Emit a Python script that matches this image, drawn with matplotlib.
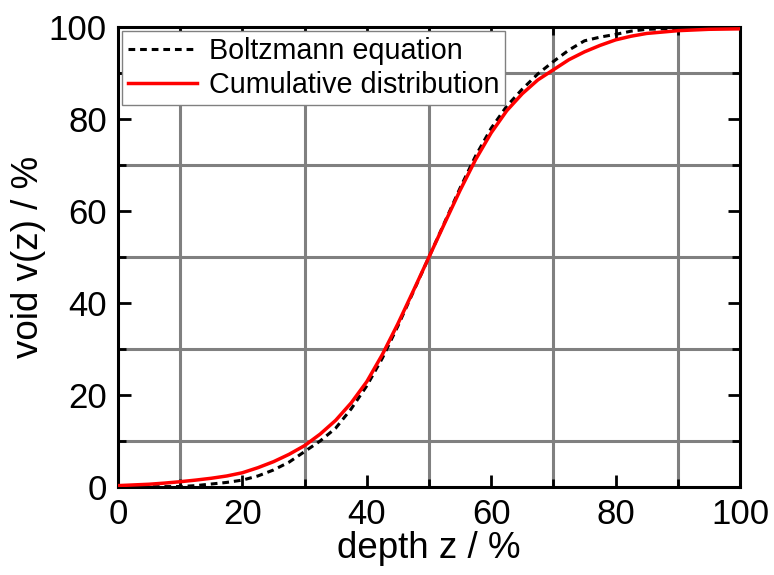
import matplotlib
matplotlib.use('Agg')
import matplotlib.pyplot as plt
from matplotlib.ticker import MultipleLocator
import numpy as np

#%% data
depth = [0, 2.5, 5, 7.5, 10, 12.5, 15, 17.5, 20, 22.5, 25, 27.5, 30, 32.5, 35, 37.5, 40, 42.5, 45, 47.5,
         50, 52.5, 55, 57.5, 60, 62.5, 65, 67.5, 70, 72.5, 75, 77.5, 80, 82.5, 85, 87.5, 90, 95, 100]
cumulative = [0.3, 0.45, 0.6, 0.85, 1.15, 1.5, 1.9, 2.4, 3.1, 4.2, 5.5, 7.1, 9.0, 11.5, 14.5, 18.3, 22.9, 28.8, 35.5, 42.7,
              50, 57.3, 64.5, 71.2, 77.0, 81.8, 85.5, 88.5, 90.7, 92.9, 94.6, 96.0, 97.2, 98.0, 98.6, 98.9, 99.2, 99.5, 99.6]
boltzmann = [0.05, 0.05, 0.05, 0.08, 0.1, 0.3, 0.65, 1.0, 1.5, 2.4, 3.7, 5.4, 7.7, 10.0, 12.8, 17.0, 22.0, 28.0, 35.0, 42.5,
             50, 57.5, 65.0, 72.0, 78.0, 82.8, 86.5, 89.8, 92.5, 95.0, 97.0, 97.8, 98.4, 99.1, 99.5, 99.6, 99.7, 99.8, 99.9]

#%% plot
plt.rcParams.update({'font.family': 'Liberation Sans', 'font.size': 25})
fig = plt.figure(figsize=(7.74, 5.75), dpi=100)
ax = fig.add_axes([118/774, 1-487/575, (740-118)/774, (487-27)/575])

ax.plot(depth, boltzmann, c='k', ls=(0, (2.2, 1.6)), lw=2.2, label='Boltzmann equation', zorder=3)
ax.plot(depth, cumulative, c='#ff0000', lw=2.5, label='Cumulative distribution', zorder=4)

ax.set_xlim(0, 100)
ax.set_ylim(0, 100)
ax.xaxis.set_major_locator(MultipleLocator(20))
ax.yaxis.set_major_locator(MultipleLocator(20))
ax.xaxis.set_minor_locator(MultipleLocator(10))
ax.yaxis.set_minor_locator(MultipleLocator(10))
ax.grid(which='minor', c='#808080', lw=2.2)
ax.tick_params(which='both', direction='in', top=True, right=True, width=2)
ax.tick_params(which='major', length=9, pad=8)
ax.tick_params(which='minor', length=6)
for s in ax.spines.values():
    s.set_linewidth(2.2)

ax.set_xlabel('depth z / %', fontsize=26.5, labelpad=0)
ax.set_ylabel('void v(z) / %', fontsize=26.5, labelpad=2)

leg = ax.legend(loc='upper left', fontsize=20.7, fancybox=False, framealpha=1, edgecolor='#808080',
                borderaxespad=0.15, handlelength=2.4, handletextpad=0.4, borderpad=0.2, labelspacing=0.2)
leg.get_frame().set_linewidth(1)

fig.savefig('out.png', dpi=100)
